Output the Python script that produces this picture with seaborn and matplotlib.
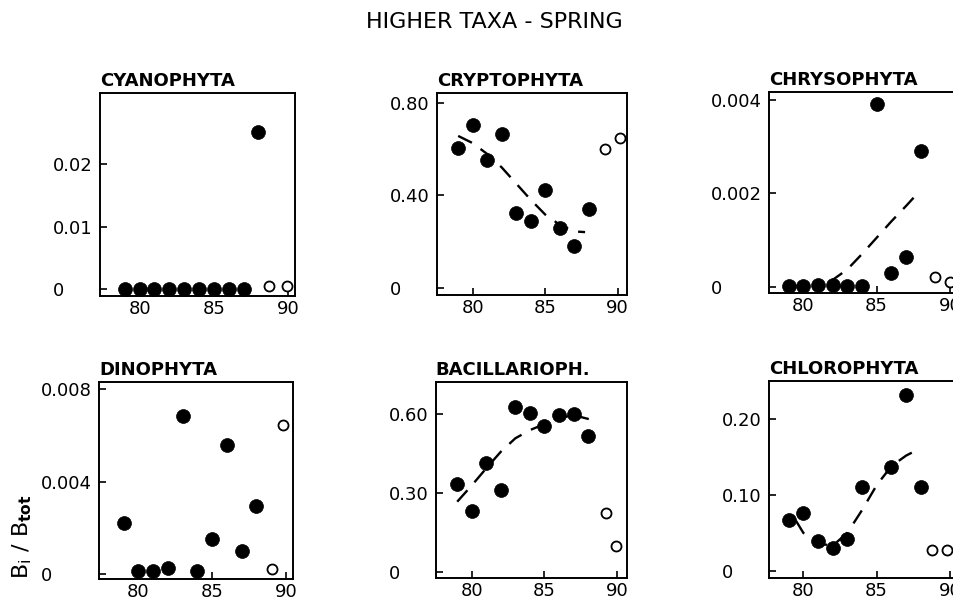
import matplotlib
matplotlib.use("Agg")
import matplotlib.pyplot as plt
import seaborn as sns
import numpy as np

# ---------------- data ----------------
titles = ["CYANOPHYTA", "CRYPTOPHYTA", "CHRYSOPHYTA",
          "DINOPHYTA", "BACILLARIOPH.", "CHLOROPHYTA"]

# Cyanophyta
cya_x = [79, 80, 81, 82, 83, 84, 85, 86, 87, 88]
cya_y = [0, 0, 0, 0, 0, 0, 0, 0, 0, 0.0251]
cya_ox = [88.75, 89.9]
cya_oy = [0.0005, 0.0005]

# Cryptophyta
cry_x = [79, 80, 81, 82, 83, 84, 85, 86, 87, 88]
cry_y = [0.603, 0.702, 0.552, 0.663, 0.322, 0.286, 0.423, 0.257, 0.182, 0.340]
cry_ox = [89.1, 90.15]
cry_oy = [0.598, 0.646]
cry_tx = [79, 80, 81, 82, 83, 84, 85, 86, 87, 87.75]
cry_ty = [0.656, 0.625, 0.578, 0.520, 0.450, 0.380, 0.316, 0.272, 0.243, 0.240]

# Chrysophyta
chs_x = [79, 80, 81, 82, 83, 84, 85, 86, 87, 88]
chs_y = [0.00002, 0.00002, 0.00003, 0.00003, 0.00002, 0.00002,
         0.00391, 0.00030, 0.00064, 0.00292]
chs_ox = [89.0, 90.0]
chs_oy = [0.00021, 0.00011]
chs_tx = [81.8, 83, 84, 85, 86, 87, 87.9]
chs_ty = [0.0001, 0.00037, 0.00070, 0.00105, 0.00140, 0.00173, 0.00204]

# Dinophyta
din_x = [79, 80, 81, 82, 83, 84, 85, 86, 87, 88]
din_y = [0.0022, 0.00014, 0.00013, 0.00025, 0.00686, 0.00014,
         0.00152, 0.0056, 0.00098, 0.00296]
din_ox = [89.05, 89.8]
din_oy = [0.00022, 0.00646]

# Bacillariophyta
bac_x = [79, 80, 81, 82, 83, 84, 85, 86, 87, 88]
bac_y = [0.334, 0.234, 0.414, 0.313, 0.629, 0.604, 0.556, 0.597, 0.600, 0.519]
bac_ox = [89.25, 89.95]
bac_oy = [0.224, 0.100]
bac_tx = [79, 80, 81, 82, 83, 84, 85, 86, 87, 88.05]
bac_ty = [0.268, 0.330, 0.395, 0.458, 0.509, 0.540, 0.563, 0.585, 0.597, 0.582]

# Chlorophyta
chl_x = [79, 80, 81, 82, 83, 84, 86, 87, 88]
chl_y = [0.067, 0.076, 0.039, 0.030, 0.042, 0.110, 0.137, 0.232, 0.111]
chl_ox = [88.8, 89.8]
chl_oy = [0.027, 0.027]
chl_tx = [79.5, 80, 81, 82, 83, 84, 85, 86, 87, 87.6]
chl_ty = [0.066, 0.050, 0.036, 0.033, 0.050, 0.080, 0.113, 0.138, 0.152, 0.158]

x_ticks = [80, 85, 90]
x_ticklabels = ["80", "85", "90"]

y_ticks = [[0, 0.01, 0.02], [0, 0.40, 0.80], [0, 0.002, 0.004],
           [0, 0.004, 0.008], [0, 0.30, 0.60], [0, 0.10, 0.20]]
y_ticklabels = [["0", "0.01", "0.02"], ["0", "0.40", "0.80"],
                ["0", "0.002", "0.004"], ["0", "0.004", "0.008"],
                ["0", "0.30", "0.60"], ["0", "0.10", "0.20"]]

suptitle = "HIGHER TAXA - SPRING"
ylabel = r"B$_\mathregular{i}$ / B$_\mathbf{tot}$"

# ---------------- layout ----------------
sns.set_theme(style="ticks")
plt.rcParams["font.family"] = ["DejaVu Sans"]
plt.rcParams["axes.linewidth"] = 1.4

W, H = 954, 602
fig = plt.figure(figsize=(W / 100, H / 100), dpi=100)

def px_rect(l, t, r, b):
    return [l / W, 1 - b / H, (r - l) / W, (b - t) / H]

rects = [px_rect(100, 93, 295, 296), px_rect(436.7, 92.7, 627.3, 295),
         px_rect(769, 92.3, 960, 292.7), px_rect(99, 382.3, 293.3, 579.3),
         px_rect(435.7, 381.7, 627.3, 578.3), px_rect(769, 380.7, 960, 578.3)]
xlims = [(77.33, 90.47), (77.52, 90.66), (77.66, 90.68),
         (77.33, 90.5), (77.52, 90.7), (77.66, 90.68)]
ylims = [(-0.0011, 0.0314), (-0.032, 0.843), (-0.00013, 0.00417),
         (-0.00023, 0.0083), (-0.023, 0.724), (-0.010, 0.251)]

panels = [
    (cya_x, cya_y, cya_ox, cya_oy, None, None),
    (cry_x, cry_y, cry_ox, cry_oy, cry_tx, cry_ty),
    (chs_x, chs_y, chs_ox, chs_oy, chs_tx, chs_ty),
    (din_x, din_y, din_ox, din_oy, None, None),
    (bac_x, bac_y, bac_ox, bac_oy, bac_tx, bac_ty),
    (chl_x, chl_y, chl_ox, chl_oy, chl_tx, chl_ty),
]

axes = []
for i, (fx, fy, ox, oy, tx, ty) in enumerate(panels):
    ax = fig.add_axes(rects[i])
    axes.append(ax)
    if tx is not None:
        sns.lineplot(x=tx, y=ty, ax=ax, color="black", lw=1.7,
                     linestyle=(0, (6.5, 4.5)), sort=False, zorder=2)
    sns.scatterplot(x=fx, y=fy, ax=ax, color="black", edgecolor="black",
                    s=100, linewidth=0.5, zorder=3)
    sns.scatterplot(x=ox, y=oy, ax=ax, color="white", edgecolor="black",
                    s=52, linewidth=1.3, zorder=3)
    ax.set_xlim(*xlims[i])
    ax.set_ylim(*ylims[i])
    ax.set_xticks(x_ticks, x_ticklabels)
    ax.set_yticks(y_ticks[i], y_ticklabels[i])
    ax.tick_params(direction="in", length=5, width=1.2, labelsize=13,
                   colors="black")
    ax.tick_params(axis="x", pad=3)
    for s in ax.spines.values():
        s.set_visible(True)
        s.set_color("black")
        s.set_linewidth(1.4)
    ax.set_xlabel("")
    ax.set_ylabel("")
    ax.set_title(titles[i], loc="left", fontsize=13, fontweight="bold",
                 pad=5, color="black")

# left-aligned y tick labels, like the original
fig.canvas.draw()
r = fig.canvas.get_renderer()
for i, ax in enumerate(axes):
    labs = ax.get_yticklabels()
    w = max(l.get_window_extent(r).width for l in labs)
    ax.tick_params(axis="y", pad=(w + 7) * 72 / fig.dpi)
    ax.set_yticks(y_ticks[i], y_ticklabels[i], ha="left")

fig.text(494 / W, 1 - 22 / H, suptitle, ha="center", va="center",
         fontsize=16, color="black")
fig.text(22 / W, 1 - 537 / H, ylabel, ha="center", va="center",
         rotation=90, fontsize=16, color="black")

fig.savefig("out.png", dpi=100, facecolor="white")
